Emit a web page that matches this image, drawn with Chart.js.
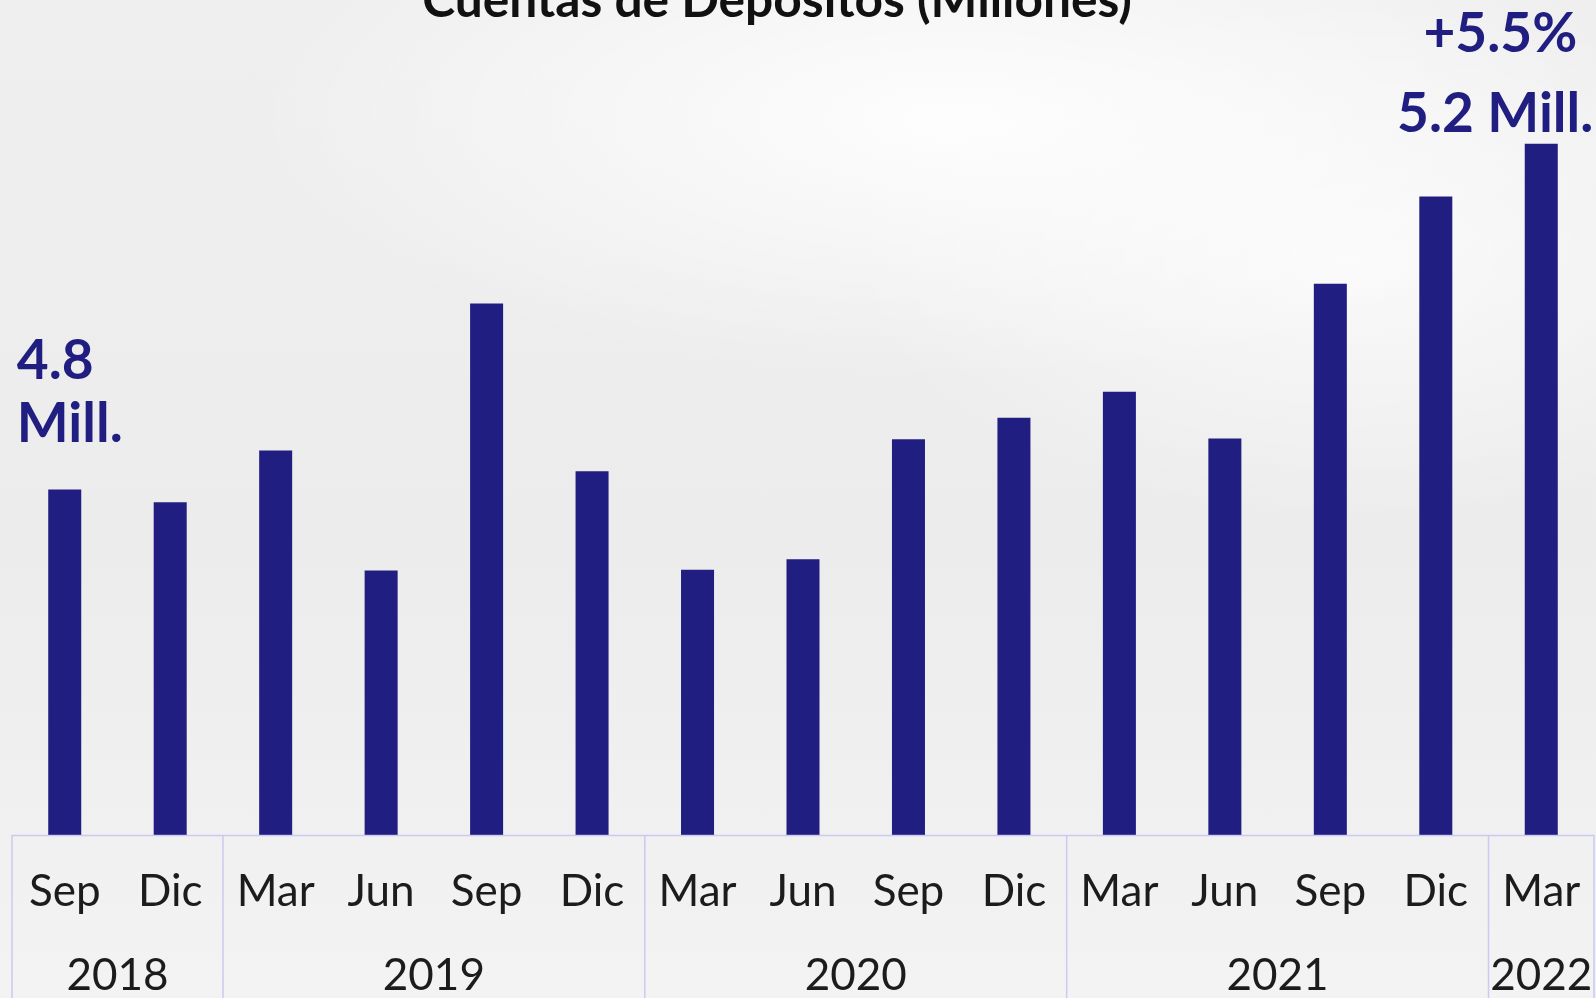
<!DOCTYPE html>
<html>
<head>
<meta charset="utf-8">
<script src="https://cdn.jsdelivr.net/npm/chart.js@4"></script>
<style>
  html, body { margin: 0; padding: 0; }
  body {
    width: 1596px; height: 998px; overflow: hidden;
    background:
      radial-gradient(ellipse 700px 260px at 950px 120px, rgba(255,255,255,0.9), rgba(255,255,255,0) 100%),
      radial-gradient(ellipse 500px 260px at 1350px 260px, rgba(255,255,255,0.7), rgba(255,255,255,0) 100%),
      linear-gradient(180deg, #efefef 0%, #ececec 55%, #f3f3f3 100%);
  }
  canvas { display: block; }
</style>
</head>
<body>
<canvas id="myChart" width="1596" height="998"></canvas>
<script>
// datos del grafico
const meses = ["Sep", "Dic", "Mar", "Jun", "Sep", "Dic", "Mar", "Jun", "Sep", "Dic", "Mar", "Jun", "Sep", "Dic", "Mar"];
const anios = ["2018", "2019", "2020", "2021", "2022"];
const mesesPorAnio = [2, 4, 4, 4, 1];
const cuentas = [4.80, 4.785, 4.845, 4.706, 5.015, 4.821, 4.707, 4.719, 4.858, 4.883, 4.913, 4.859, 5.038, 5.139, 5.20];
const titulo = "Cuentas de Depósitos (Millones)";

const azul = "rgb(32, 30, 128)";
const lineaTabla = "rgba(200, 196, 242, 0.9)";

// dibuja titulo, etiquetas y la tabla de años
const extras = {
  id: "extras",
  afterDraw(chart) {
    const { ctx, scales: { x, y }, chartArea } = chart;
    const bottom = chart.height;
    ctx.save();

    // titulo (cortado arriba)
    let size = 40;
    ctx.font = `bold ${size}px Lato`;
    size = size * 710 / ctx.measureText(titulo).width;
    ctx.font = `bold ${size}px Lato`;
    ctx.fillStyle = "#111";
    ctx.textAlign = "center";
    ctx.textBaseline = "alphabetic";
    ctx.fillText(titulo, 777, 17);

    // tabla de años
    const half = (x.getPixelForValue(1) - x.getPixelForValue(0)) / 2;
    ctx.strokeStyle = lineaTabla;
    ctx.lineWidth = 1.5;
    ctx.beginPath();
    ctx.moveTo(chartArea.left, chartArea.bottom + 0.5);
    ctx.lineTo(chartArea.right, chartArea.bottom + 0.5);
    let idx = 0;
    const bordes = [x.getPixelForValue(0) - half];
    mesesPorAnio.forEach((n) => {
      idx += n;
      bordes.push(x.getPixelForValue(idx - 1) + half);
    });
    bordes.forEach((bx) => {
      ctx.moveTo(bx, chartArea.bottom);
      ctx.lineTo(bx, bottom);
    });
    ctx.stroke();

    ctx.font = "44px Lato";
    ctx.fillStyle = "#1c1c1c";
    ctx.textBaseline = "middle";
    anios.forEach((a, i) => {
      ctx.fillText(a, (bordes[i] + bordes[i + 1]) / 2, 976);
    });

    // etiquetas de valores
    ctx.fillStyle = azul;
    ctx.font = "bold 55px Lato";
    ctx.textBaseline = "alphabetic";
    const x0 = x.getPixelForValue(0);
    const y0 = y.getPixelForValue(cuentas[0]);
    ctx.textAlign = "left";
    ctx.fillText("4.8", x0 - 48, y0 - 110);
    ctx.fillText("Mill.", x0 - 48, y0 - 47);

    const ultimo = cuentas.length - 1;
    const xn = x.getPixelForValue(ultimo);
    const yn = y.getPixelForValue(cuentas[ultimo]);
    ctx.textAlign = "right";
    ctx.fillText("5.2 Mill.", xn + 52, yn - 12);
    ctx.fillText("+5.5%", xn + 36, yn - 92);
    ctx.restore();
  },
};

const ctx = document.getElementById("myChart");
const myChart = new Chart(ctx, {
  type: "bar",
  data: {
    labels: meses,
    datasets: [
      {
        label: "Cuentas",
        data: cuentas,
        backgroundColor: azul,
        borderWidth: 0,
        barPercentage: 1,
        categoryPercentage: 0.313,
      },
    ],
  },
  options: {
    responsive: false,
    animation: false,
    layout: { padding: { left: 12, right: 2, top: 0, bottom: 0 } },
    scales: {
      x: {
        grid: { display: false, drawTicks: false },
        border: { display: false },
        ticks: {
          color: "#1c1c1c",
          font: { family: "Lato", size: 44 },
          padding: 30,
          maxRotation: 0,
          autoSkip: false,
        },
        afterFit: (scale) => {
          scale.height = 163;
          scale.paddingLeft = 0;
          scale.paddingRight = 0;
        },
      },
      y: {
        display: false,
        min: 4.4,
        max: 5.3664,
      },
    },
    plugins: {
      legend: { display: false },
      tooltip: { enabled: false },
    },
  },
  plugins: [extras],
});
</script>
</body>
</html>
